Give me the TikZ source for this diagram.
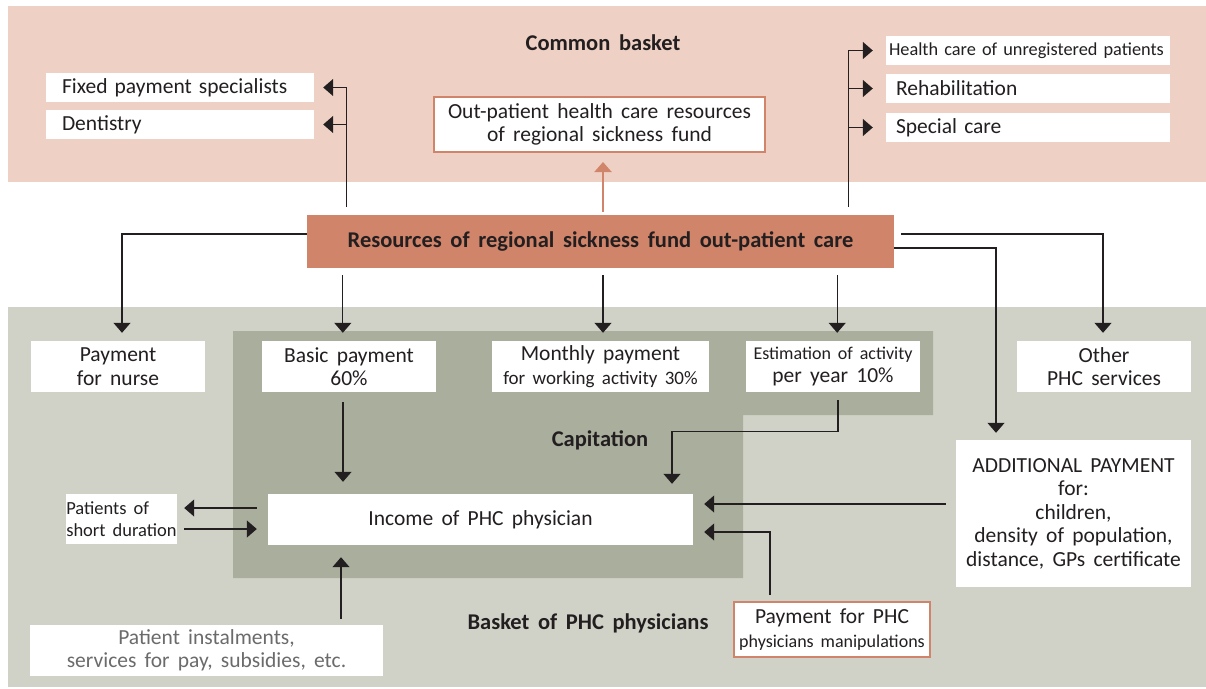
\documentclass[tikz,border=0pt]{standalone}
\usepackage{fontspec}
\setmainfont{Carlito}[WordSpace=1.7]
\usetikzlibrary{arrows.meta}
\definecolor{pinkbg}{HTML}{EED1C4}
\definecolor{graybg}{HTML}{D0D2C7}
\definecolor{capbg}{HTML}{AAAE9D}
\definecolor{orng}{HTML}{D0846A}
\definecolor{ink}{HTML}{231F20}
\definecolor{softink}{HTML}{6B6B6B}
\begin{document}
\begin{tikzpicture}[x=1pt,y=-1pt,
  txt/.style={font=\fontsize{21.5}{23.5}\selectfont, text=ink},
  wbox/.style={txt, fill=white, inner sep=0pt, align=center},
  lbox/.style={wbox, align=left, inner xsep=16pt},
  obox/.style={wbox, draw=orng, line width=2pt},
  title/.style={font=\bfseries\fontsize{22.5}{24}\selectfont, text=ink},
  arr/.style={draw=ink, line width=1.3pt, -{Triangle[width=17pt,length=10pt]}},
  oarr/.style={draw=orng, line width=2pt, -{Triangle[width=17pt,length=10pt]}}
]
\useasboundingbox (0,0) rectangle (1206,688);
% background areas
\fill[pinkbg] (8,6) rectangle (1206,182);
\fill[graybg] (8,307) rectangle (1206,687);
\fill[capbg] (233,331) -- (933,331) -- (933,415) -- (743,415) -- (743,578) -- (233,578) -- cycle;

% titles
\node[title] (common) at (603,43) {Common basket};
\node[title] (capit) at (600,440) {Capitation};
\node[title] (basket) at (588,623) {Basket of PHC physicians};

% common basket boxes
\node[lbox, minimum width=268pt, minimum height=29pt, text width=236pt] (fixed) at (180,87.5) {Fixed payment specialists};
\node[lbox, minimum width=268pt, minimum height=29pt, text width=236pt] (dent) at (180,124.5) {Dentistry};
\node[lbox, inner xsep=3pt, minimum width=284pt, minimum height=29pt, text width=278pt, font=\fontsize{18.3}{23.5}\selectfont] (health) at (1028,50.5) {Health care of unregistered patients};
\node[lbox, inner xsep=10pt, minimum width=284pt, minimum height=29pt, text width=264pt] (rehab) at (1028,88.5) {Rehabilitation};
\node[lbox, inner xsep=10pt, minimum width=284pt, minimum height=29pt, text width=264pt] (special) at (1028,127.5) {Special care};
\node[obox, minimum width=331pt, minimum height=55pt] (out) at (599.5,124.5) {Out-patient health care resources\\of regional sickness fund};

% main resources box
\node[fill=orng, minimum width=587pt, minimum height=53pt, inner sep=0pt, font=\bfseries\fontsize{22.5}{24}\selectfont, text=ink] (res) at (600.5,241.5) {Resources of regional sickness fund out-patient care};

% PHC boxes
\node[wbox, minimum width=174pt, minimum height=51pt] (nurse) at (118,366.5) {Payment\\for nurse};
\node[wbox, minimum width=174pt, minimum height=51pt] (basic) at (349,366.5) {Basic payment\\60\%};
\node[wbox, minimum width=217pt, minimum height=51pt] (monthly) at (600.5,366.5) {Monthly payment\\{\fontsize{19}{23.5}\selectfont for working activity 30\%}};
\node[wbox, minimum width=174pt, minimum height=51pt] (estim) at (833,366.5) {{\fontsize{18}{23.5}\selectfont Estimation of activity}\\per year 10\%};
\node[wbox, minimum width=174pt, minimum height=51pt] (other) at (1104,366.5) {Other\\PHC services};
\node[wbox, minimum width=235pt, minimum height=147pt] (add) at (1073.5,513.5) {ADDITIONAL PAYMENT\\for:\\children,\\density of population,\\distance, GPs certificate};
\node[wbox, minimum width=425pt, minimum height=51pt] (income) at (480.5,519.5) {Income of PHC physician};
\node[wbox, align=left, minimum width=111pt, minimum height=50pt, font=\fontsize{18.5}{22.5}\selectfont] (patients) at (121.5,519) {Patients of\\short duration};
\node[wbox, minimum width=353pt, minimum height=51pt, text=softink] (instal) at (206.5,650.5) {Patient instalments,\\services for pay, subsidies, etc.};
\node[obox, minimum width=196pt, minimum height=55pt] (pay) at (832,629.5) {Payment for PHC\\{\fontsize{18}{23.5}\selectfont physicians manipulations}};

% connectors: common basket
\coordinate (jl) at ([xshift=40pt]res.north west);
\draw[arr, shorten <=8pt, shorten >=9pt] (jl) |- (fixed.east);
\draw[arr, shorten >=9pt] (jl |- dent.east) -- (dent.east);
\coordinate (jr) at ([xshift=-46pt]res.north east);
\draw[arr, shorten <=8pt, shorten >=13pt] (jr) |- (health.west);
\draw[arr, shorten >=13pt] (jr |- rehab.west) -- (rehab.west);
\draw[arr, shorten >=13pt] (jr |- special.west) -- (special.west);
\draw[oarr, shorten <=3pt, shorten >=9pt] ([xshift=2.5pt]res.north) -- ([xshift=3.5pt]out.south);

% connectors: resources to PHC
\draw[arr, shorten >=8pt] ([yshift=7.5pt]res.west) -| ([xshift=4pt]nurse.north);
\coordinate (jb) at ([xshift=36pt]res.south west);
\draw[arr, shorten <=7pt, shorten >=8pt] (jb) -- (jb |- basic.north);
\draw[arr, shorten <=7pt, shorten >=8pt] ([xshift=2.5pt]res.south) -- ([xshift=2.5pt]monthly.north);
\coordinate (je) at ([xshift=-57pt]res.south east);
\draw[arr, shorten <=7pt, shorten >=8pt] (je) -- (je |- estim.north);
\draw[arr, shorten <=7pt, shorten >=8pt] ([yshift=7.5pt]res.east) -| ([xshift=-1pt]other.north);
\draw[arr, shorten >=7pt] ([yshift=-6.5pt]res.east) -| ([xshift=-77.5pt]add.north);

% connectors: into income
\coordinate (jbi) at ([xshift=-6pt]basic.south);
\draw[arr, shorten <=10pt, shorten >=12pt] (jbi) -- (jbi |- income.north);
\draw[arr, shorten <=8pt, shorten >=10pt] ([xshift=5pt]estim.south) -- ++(0,39) -| ([xshift=191.5pt]income.north);
\coordinate (ia) at ([yshift=11.5pt]income.west);
\draw[arr, shorten <=11pt, shorten >=7pt] (ia) -- (ia -| patients.east);
\coordinate (ib) at ([yshift=-9.5pt]income.west);
\draw[arr, shorten <=7pt, shorten >=11pt] (ib -| patients.east) -- (ib);
\coordinate (ii) at ([xshift=134.5pt]instal.north);
\draw[arr, shorten <=6pt, shorten >=12pt] (ii) -- (ii |- income.south);
\coordinate (ai) at ([yshift=9.5pt]add.west);
\draw[arr, shorten <=10pt, shorten >=11pt] (ai) -- (ai -| income.east);
\coordinate (pi) at ([xshift=-62pt]pay.north);
\coordinate (pi2) at ([yshift=-12.5pt]income.east);
\draw[arr, shorten <=6pt, shorten >=11pt] (pi) |- (pi2);
\end{tikzpicture}
\end{document}
